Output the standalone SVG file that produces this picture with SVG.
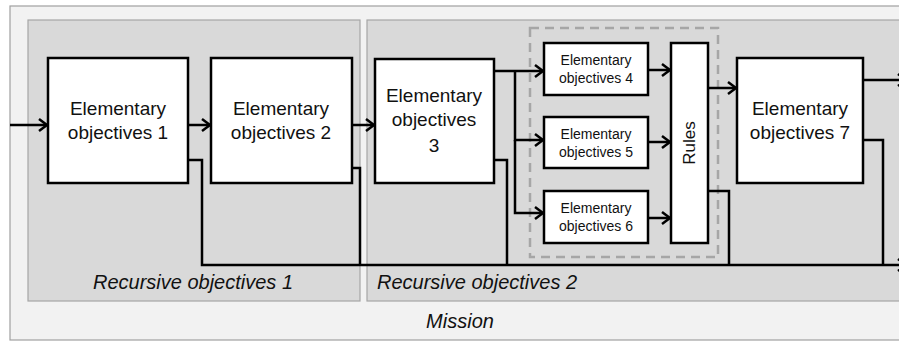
<svg xmlns="http://www.w3.org/2000/svg" width="899" height="341" viewBox="0 0 899 341">
<defs>
<style>
.box{fill:#fff;stroke:#000;stroke-width:2.5}
.grp{fill:#d9d9d9;stroke:#a6a6a6;stroke-width:1.2}
.t{font-family:"Liberation Sans",Arial,sans-serif;fill:#111;text-anchor:middle}
.big{font-size:19px}
.sm{font-size:14px}
.it{font-family:"Liberation Sans",Arial,sans-serif;font-style:italic;font-size:20px;fill:#111}
.ln{fill:none;stroke:#000;stroke-width:2.5}
.ar{marker-end:url(#arr)}
</style>
<marker id="arr" markerUnits="userSpaceOnUse" markerWidth="14" markerHeight="16" refX="10" refY="7" orient="auto">
<path d="M2,1 L10,7 L2,13" fill="none" stroke="#000" stroke-width="2.5"/>
</marker>
</defs>
<g id="mission">
<rect x="10" y="6" width="900" height="334" fill="#f2f2f2" stroke="#a0a0a0" stroke-width="1.2"/>
<text class="it" x="460" y="328" text-anchor="middle">Mission</text>
</g>
<g id="recursive1">
<rect class="grp" x="28" y="20" width="332" height="281"/>
<text class="it" x="193" y="289" text-anchor="middle">Recursive objectives 1</text>
</g>
<g id="recursive2">
<rect class="grp" x="367" y="20" width="545" height="281"/>
<text class="it" x="377" y="289">Recursive objectives 2</text>
</g>
<g id="parallel-group">
<rect x="530" y="28" width="188" height="229" fill="none" stroke="#a6a6a6" stroke-width="2.5" stroke-dasharray="9,6"/>
</g>
<g id="eo1">
<rect class="box" x="48" y="58" width="140" height="125"/>
<text class="t big" x="118" y="115">Elementary</text>
<text class="t big" x="118" y="139">objectives 1</text>
</g>
<g id="eo2">
<rect class="box" x="211" y="58" width="141" height="125"/>
<text class="t big" x="281" y="115">Elementary</text>
<text class="t big" x="281" y="139">objectives 2</text>
</g>
<g id="eo3">
<rect class="box" x="375" y="59" width="119" height="124"/>
<text class="t big" x="434" y="102">Elementary</text>
<text class="t big" x="434" y="126">objectives</text>
<text class="t big" x="434" y="152">3</text>
</g>
<g id="eo4">
<rect class="box" x="544" y="43" width="104" height="52"/>
<text class="t sm" x="596" y="65">Elementary</text>
<text class="t sm" x="596" y="83">objectives 4</text>
</g>
<g id="eo5">
<rect class="box" x="544" y="117" width="104" height="51"/>
<text class="t sm" x="596" y="139">Elementary</text>
<text class="t sm" x="596" y="157">objectives 5</text>
</g>
<g id="eo6">
<rect class="box" x="544" y="191" width="104" height="52"/>
<text class="t sm" x="596" y="213">Elementary</text>
<text class="t sm" x="596" y="231">objectives 6</text>
</g>
<g id="rules">
<rect class="box" x="671" y="43" width="37" height="200"/>
<text class="t" font-size="17" transform="translate(695,143) rotate(-90)">Rules</text>
</g>
<g id="eo7">
<rect class="box" x="737" y="58" width="126" height="125"/>
<text class="t big" x="800" y="115">Elementary</text>
<text class="t big" x="800" y="139">objectives 7</text>
</g>
<g id="connectors">
<path class="ln ar" d="M10,125 H47"/>
<path class="ln ar" d="M188,125 H210"/>
<path class="ln ar" d="M352,125 H374"/>
<path class="ln ar" d="M494,71 H543"/>
<path class="ln ar" d="M515,71 V140 H543"/>
<path class="ln ar" d="M515,140 V213 H543"/>
<path class="ln ar" d="M648,70 H670"/>
<path class="ln ar" d="M648,142 H670"/>
<path class="ln ar" d="M648,218 H670"/>
<path class="ln ar" d="M708,88 H736"/>
<path class="ln ar" d="M863,80 H906"/>
<path class="ln ar" d="M188,160 H202 V265 H906"/>
<path class="ln" d="M352,168 H360 V265"/>
<path class="ln" d="M494,160 H507 V265"/>
<path class="ln" d="M708,191 H729 V265"/>
<path class="ln" d="M863,140 H883 V265"/>
</g>
</svg>
